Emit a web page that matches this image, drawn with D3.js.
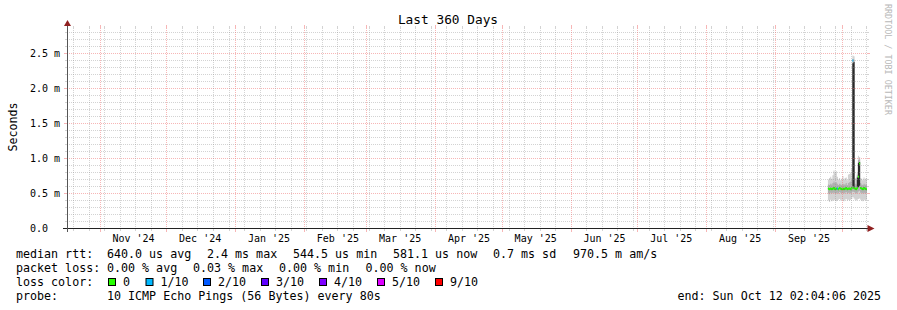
<!DOCTYPE html>
<html>
<head>
<meta charset="utf-8">
<script src="https://cdn.jsdelivr.net/npm/d3@7"></script>
<style>
body { margin: 0; background: #fff; }
svg { display: block; font-family: "DejaVu Sans Mono", monospace; }
</style>
</head>
<body>
<svg id="chart" width="897" height="310"></svg>
<script>
// sample times (one per 12 h) and ping stats in ms
var sampleTimes = [
  "2025-09-24T12:00", "2025-09-25T00:00", "2025-09-25T12:00", "2025-09-26T00:00",
  "2025-09-26T12:00", "2025-09-27T00:00", "2025-09-27T12:00", "2025-09-28T00:00",
  "2025-09-28T12:00", "2025-09-29T00:00", "2025-09-29T12:00", "2025-09-30T00:00",
  "2025-09-30T12:00", "2025-10-01T00:00", "2025-10-01T12:00", "2025-10-02T00:00",
  "2025-10-02T12:00", "2025-10-03T00:00", "2025-10-03T12:00", "2025-10-04T00:00",
  "2025-10-04T12:00", "2025-10-05T00:00", "2025-10-05T12:00", "2025-10-06T00:00",
  "2025-10-06T12:00", "2025-10-07T00:00", "2025-10-07T12:00", "2025-10-08T00:00",
  "2025-10-08T12:00", "2025-10-09T00:00", "2025-10-09T12:00", "2025-10-10T00:00",
  "2025-10-10T12:00", "2025-10-11T00:00", "2025-10-11T12:00", "2025-10-12T00:00"
];
var medianMs = [0.57,0.56,0.57,0.56,0.57,0.58,0.56,0.57,0.57,0.56,0.58,0.57,
                0.56,0.57,0.56,0.57,0.58,0.56,0.57,0.57,0.56,0.58,2.40,0.58,
                0.57,0.56,0.58,0.74,0.93,0.58,0.57,0.56,0.58,0.57,0.56,0.57];
var lossTenths = [0,0,0,0,0,0,0,0,1,0,0,0,0,0,0,0,0,0,0,0,0,0,1,0,0,0,0,0,0,0,0,0,0,0,0,0];
var minMs = [0.40,0.38,0.41,0.39,0.40,0.41,0.40,0.39,0.40,0.41,0.42,0.40,
             0.41,0.40,0.39,0.41,0.42,0.40,0.41,0.40,0.41,0.42,0.45,0.43,
             0.41,0.40,0.41,0.42,0.43,0.41,0.40,0.39,0.41,0.40,0.41,0.40];
var p3Ms  = [0.50,0.49,0.51,0.50,0.51,0.51,0.50,0.50,0.51,0.50,0.52,0.51,
             0.50,0.51,0.50,0.51,0.52,0.50,0.51,0.51,0.50,0.52,0.53,0.52,
             0.51,0.50,0.51,0.53,0.54,0.51,0.51,0.50,0.51,0.50,0.51,0.50];
var p5Ms  = [0.56,0.55,0.56,0.55,0.56,0.57,0.55,0.56,0.56,0.55,0.57,0.56,
             0.55,0.56,0.55,0.56,0.57,0.55,0.56,0.56,0.55,0.57,0.60,0.57,
             0.56,0.55,0.57,0.59,0.61,0.57,0.56,0.55,0.57,0.56,0.55,0.56];
var p6Ms  = [0.58,0.57,0.58,0.57,0.58,0.59,0.57,0.58,0.58,0.57,0.59,0.58,
             0.57,0.58,0.57,0.58,0.59,0.57,0.58,0.58,0.57,0.59,2.36,2.38,
             0.58,0.57,0.73,0.94,0.95,0.59,0.58,0.57,0.59,0.58,0.57,0.58];
var p8Ms  = [0.63,0.62,0.64,0.63,0.65,0.67,0.65,0.66,0.64,0.62,0.64,0.63,
             0.62,0.64,0.63,0.63,0.65,0.62,0.65,0.66,0.67,0.69,2.42,2.41,
             0.64,0.63,0.76,0.98,0.99,0.65,0.63,0.62,0.64,0.63,0.62,0.64];
var maxMs = [0.70,0.72,0.74,0.71,0.76,0.83,0.80,0.82,0.74,0.70,0.72,0.69,
             0.71,0.75,0.70,0.72,0.73,0.69,0.77,0.78,0.80,0.86,2.47,2.46,
             0.72,0.70,0.79,1.04,1.02,0.72,0.71,0.69,0.73,0.70,0.72,0.70];

var yTickValues = [0, 0.5, 1.0, 1.5, 2.0, 2.5];
var yTickLabels = ["0.0", "0.5 m", "1.0 m", "1.5 m", "2.0 m", "2.5 m"];

var lossLevels = [0, 1, 2, 3, 4, 5, 9];
var lossLabels = ["0", "1/10", "2/10", "3/10", "4/10", "5/10", "9/10"];
var lossColors = ["#26ff00", "#00b8ff", "#0059ff", "#5e00ff", "#7e00ff", "#dd00ff", "#ff0000"];

var rttLegend = ["median rtt:", "640.0 us avg", "2.4 ms max", "544.5 us min", "581.1 us now", "0.7 ms sd", "970.5 m am/s"];
var lossLegend = ["packet loss:", "0.00 % avg", "0.03 % max", "0.00 % min", "0.00 % now"];
var probeText = "10 ICMP Echo Pings (56 Bytes) every 80s";
var endText = "end: Sun Oct 12 02:04:06 2025";

// layout
var x0 = 67, x1 = 867, yTop = 28, yBot = 228;
var endTime = new Date(Date.UTC(2025, 9, 12, 2, 4, 6));
var startTime = d3.utcDay.offset(endTime, -360);

var svg = d3.select("#chart");
svg.append("rect").attr("width", 897).attr("height", 310).attr("fill", "#fff");

var x = d3.scaleUtc().domain([startTime, endTime]).range([x0, x1]);
var y = d3.scaleLinear().domain([0, 2.857]).range([yBot + 0.5, yTop + 0.5]);
function snap(v) { return Math.floor(v) + 0.5; }

var parse = d3.utcParse("%Y-%m-%dT%H:%M");
var data = sampleTimes.map(function(s, i) {
  return { t: parse(s), med: medianMs[i], loss: lossTenths[i],
           p1: minMs[i], p3: p3Ms[i], p5: p5Ms[i], p6: p6Ms[i], p8: p8Ms[i], p10: maxMs[i] };
});
// hold last sample until the end of the graph
var stepData = data.concat([Object.assign({}, data[data.length - 1], { t: endTime })]);

svg.append("clipPath").attr("id", "plotclip")
  .append("rect").attr("x", x0).attr("y", yTop).attr("width", x1 - x0).attr("height", yBot - yTop + 1);

var plot = svg.append("g").attr("clip-path", "url(#plotclip)");

// smoke bands
var bands = [["p1", "p10", "#d2d2d2"], ["p3", "p8", "#b0b0b0"], ["p5", "p6", "#2a2a2a"]];
bands.forEach(function(b) {
  var area = d3.area()
    .x(function(d) { return x(d.t); })
    .y0(function(d) { return y(d[b[0]]); })
    .y1(function(d) { return y(d[b[1]]); })
    .curve(d3.curveStepAfter);
  plot.append("path").datum(stepData).attr("d", area).attr("fill", b[2]);
});

// median, coloured by loss; one short dash per sample, joined only when the step is small
var medG = plot.append("g");
data.forEach(function(d, i) {
  var tNext = i < data.length - 1 ? data[i + 1].t : endTime;
  var col = lossColors[lossLevels.indexOf(d.loss)];
  medG.append("line")
    .attr("x1", x(d.t)).attr("x2", x(tNext))
    .attr("y1", y(d.med)).attr("y2", y(d.med))
    .attr("stroke", col).attr("stroke-width", 2);
  var nx = data[i + 1];
  if (nx && nx.loss === d.loss && Math.abs(nx.med - d.med) < 0.05) {
    medG.append("line")
      .attr("x1", x(tNext)).attr("x2", x(tNext))
      .attr("y1", y(d.med)).attr("y2", y(nx.med))
      .attr("stroke", col).attr("stroke-width", 2);
  }
});

// grid
var minorCol = "rgba(140,140,140,0.38)", majorCol = "rgba(240,110,110,0.5)";
var grid = svg.append("g").attr("shape-rendering", "crispEdges");

var yMinor = d3.range(1, 29).map(function(i) { return i / 10; }).filter(function(v) {
  return Math.abs(v * 2 - Math.round(v * 2)) > 1e-6;
});
yMinor.forEach(function(v) {
  var yy = snap(y(v));
  grid.append("line").attr("x1", x0).attr("x2", x1).attr("y1", yy).attr("y2", yy)
    .attr("stroke", minorCol).attr("stroke-dasharray", "1,1");
  grid.append("line").attr("x1", x0 - 2).attr("x2", x0).attr("y1", yy).attr("y2", yy).attr("stroke", minorCol);
  grid.append("line").attr("x1", x1).attr("x2", x1 + 2).attr("y1", yy).attr("y2", yy).attr("stroke", minorCol);
});
yTickValues.forEach(function(v) {
  var yy = snap(y(v));
  if (v > 0) {
    grid.append("line").attr("x1", x0).attr("x2", x1).attr("y1", yy).attr("y2", yy)
      .attr("stroke", majorCol).attr("stroke-dasharray", "1,1");
  }
  grid.append("line").attr("x1", x0 - 3).attr("x2", x0).attr("y1", yy).attr("y2", yy).attr("stroke", majorCol);
  grid.append("line").attr("x1", x1).attr("x2", x1 + 3).attr("y1", yy).attr("y2", yy).attr("stroke", majorCol);
});

var months = d3.utcMonth.range(startTime, endTime);
var monthPx = months.map(function(m) { return snap(x(m)); });
d3.utcSunday.range(startTime, endTime).forEach(function(w) {
  var xx = snap(x(w));
  if (monthPx.some(function(p) { return Math.abs(p - xx) < 1.5; })) return;
  grid.append("line").attr("x1", xx).attr("x2", xx).attr("y1", yTop).attr("y2", yBot)
    .attr("stroke", minorCol).attr("stroke-dasharray", "1,1");
  grid.append("line").attr("x1", xx).attr("x2", xx).attr("y1", yTop - 2).attr("y2", yTop).attr("stroke", minorCol);
  grid.append("line").attr("x1", xx).attr("x2", xx).attr("y1", yBot).attr("y2", yBot + 3).attr("stroke", minorCol);
});
monthPx.forEach(function(xx) {
  grid.append("line").attr("x1", xx).attr("x2", xx).attr("y1", yTop).attr("y2", yBot)
    .attr("stroke", majorCol).attr("stroke-dasharray", "1,1");
  grid.append("line").attr("x1", xx).attr("x2", xx).attr("y1", yTop - 3).attr("y2", yTop).attr("stroke", majorCol);
  grid.append("line").attr("x1", xx).attr("x2", xx).attr("y1", yBot).attr("y2", yBot + 4).attr("stroke", majorCol);
});

// axes
var axisCol = "#222", arrowCol = "#902020";
svg.append("line").attr("x1", x0 - 4).attr("x2", x1 + 1).attr("y1", yBot + 0.5).attr("y2", yBot + 0.5)
  .attr("stroke", axisCol).attr("shape-rendering", "crispEdges");
svg.append("line").attr("x1", x0 + 0.5).attr("x2", x0 + 0.5).attr("y1", yBot + 4).attr("y2", yTop - 2)
  .attr("stroke", "#555").attr("shape-rendering", "crispEdges");
svg.append("path").attr("d", "M" + (x1 + 7.5) + "," + (yBot + 0.5) + "L" + (x1 + 0.5) + "," + (yBot - 3) + "L" + (x1 + 0.5) + "," + (yBot + 4) + "Z")
  .attr("fill", arrowCol);
svg.append("path").attr("d", "M" + (x0 + 0.5) + "," + (yTop - 8) + "L" + (x0 - 3) + "," + (yTop - 2) + "L" + (x0 + 4) + "," + (yTop - 2) + "Z")
  .attr("fill", arrowCol);

// tick labels
var fmtMonth = d3.utcFormat("%b '%y");
var labelG = svg.append("g").attr("font-size", "10px").attr("fill", "#000");
months.forEach(function(m) {
  var mid = d3.utcDay.offset(m, 15);
  if (mid > endTime) return;
  labelG.append("text").attr("x", x(mid)).attr("y", 242).attr("text-anchor", "middle").text(fmtMonth(mid));
});
yTickValues.forEach(function(v, i) {
  labelG.append("text").attr("x", 30).attr("y", y(v) + 3.5).text(yTickLabels[i]);
});

// title, axis title, watermark
svg.append("text").attr("x", 448).attr("y", 24).attr("text-anchor", "middle")
  .attr("font-size", "12.8px").text("Last 360 Days");
svg.append("text").attr("transform", "translate(16.5,127) rotate(-90)").attr("text-anchor", "middle")
  .attr("font-size", "11.6px").text("Seconds");
svg.append("text").attr("transform", "translate(884.5,4) rotate(90)")
  .attr("font-size", "8.4px").attr("fill", "#b8b8b8").text("RRDTOOL / TOBI OETIKER");

// legend
var leg = svg.append("g").attr("font-size", "11.66px").attr("fill", "#000").style("white-space", "pre");
var rttX = [16, 107, 207, 293, 393, 493, 573];
rttLegend.forEach(function(s, i) { leg.append("text").attr("x", rttX[i]).attr("y", 258).text(s); });
var lossX = [16, 107, 193, 279, 365.5];
lossLegend.forEach(function(s, i) { leg.append("text").attr("x", lossX[i]).attr("y", 272).text(s); });
leg.append("text").attr("x", 16).attr("y", 286).text("loss color:");
var swX = [108, 145.5, 203, 261, 319, 377, 435];
lossLabels.forEach(function(s, i) {
  leg.append("rect").attr("x", swX[i] + 0.5).attr("y", 278.5).attr("width", 7).attr("height", 7)
    .attr("fill", lossColors[i]).attr("stroke", "#000");
  leg.append("text").attr("x", swX[i] + 15).attr("y", 286).text(s);
});
leg.append("text").attr("x", 16).attr("y", 300).text("probe:");
leg.append("text").attr("x", 107).attr("y", 300).text(probeText);
leg.append("text").attr("x", 881).attr("y", 300).attr("text-anchor", "end").text(endText);
</script>
</body>
</html>
